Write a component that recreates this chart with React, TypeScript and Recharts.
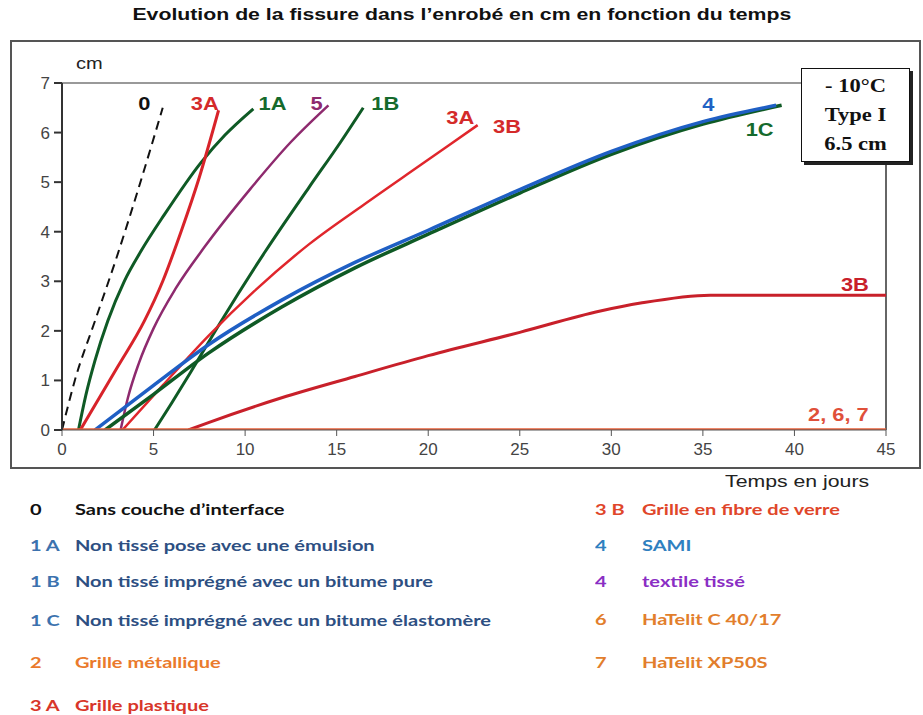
import React from 'react';
import { LineChart, Line, XAxis, YAxis, ReferenceLine, ReferenceDot } from 'recharts';

// crack length (cm) vs time (days)
const curve0 = [[0, 0], [0.7, 1], [1.8, 2.2], [3.0, 3.5], [4.2, 4.9], [5.5, 6.5]];
const curve1A = [[0.9, 0], [1.3, 0.7], [1.8, 1.4], [2.5, 2.2], [3.4, 3.0], [4.3, 3.6], [5.6, 4.35], [7.6, 5.4], [8.9, 5.95], [10.45, 6.48]];
const curve1B = [[5.05, 0], [6.0, 0.55], [7.0, 1.15], [8.7, 2.2], [11.1, 3.6], [13.5, 4.9], [15.2, 5.8], [16.45, 6.5]];
const curve1C = [[2.35, 0], [5, 0.72], [8, 1.55], [12, 2.48], [16, 3.27], [20, 3.95], [25, 4.78], [30, 5.56], [35, 6.17], [39.3, 6.55]];
const curve3A = [[1.0, 0], [3.0, 1.25], [4.5, 2.2], [5.5, 3.0], [6.5, 4.0], [7.5, 5.1], [8.55, 6.45]];
const curve3AB = [[3.3, 0], [5.5, 0.9], [8.0, 1.9], [10.5, 2.8], [13.5, 3.75], [16.5, 4.55], [19.6, 5.35], [22.7, 6.15]];
const curve3B = [[6.9, 0], [8, 0.15], [12, 0.65], [16, 1.08], [20, 1.5], [25, 1.97], [29.4, 2.4], [31.6, 2.56], [35.4, 2.72], [45, 2.72]];
const curve4 = [[1.8, 0], [5, 0.9], [8, 1.72], [12, 2.62], [16, 3.38], [20, 4.03], [25, 4.85], [30, 5.62], [35, 6.22], [39, 6.55]];
const curve5 = [[3.2, 0], [3.6, 0.65], [4.2, 1.35], [5.0, 2.05], [6.2, 2.85], [7.8, 3.7], [10.3, 4.87], [12.5, 5.81], [14.55, 6.55]];
const curve267 = [[0, 0], [45, 0]];

const xTicks = [0, 5, 10, 15, 20, 25, 30, 35, 40, 45];
const yTicks = [0, 1, 2, 3, 4, 5, 6, 7];

// curve tags: [text, t, cm, colour]
const curveTags: [string, number, number, string][] = [
  ['0', 4.5, 6.6, '#111'],
  ['3A', 7.8, 6.6, '#d42a2a'],
  ['1A', 11.5, 6.6, '#156a2c'],
  ['5', 13.9, 6.6, '#8e2a6e'],
  ['1B', 17.65, 6.6, '#156a2c'],
  ['3A', 21.75, 6.32, '#d42a2a'],
  ['3B', 24.3, 6.14, '#d42a2a'],
  ['4', 35.3, 6.58, '#1f62c4'],
  ['1C', 38.1, 6.08, '#156a2c'],
  ['3B', 43.3, 2.95, '#c8202a'],
  ['2, 6, 7', 42.4, 0.33, '#e0503a'],
];

const legendLeft: [string, string, string, string][] = [
  ['0', 'Sans couche d\u2019interface', '#111', '#111'],
  ['1 A', 'Non tissé  pose avec une émulsion', '#3c72ae', '#2d4f82'],
  ['1 B', 'Non tissé  imprégné avec un bitume pure', '#3c72ae', '#2d4f82'],
  ['1 C', 'Non tissé  imprégné avec un bitume élastomère', '#3c72ae', '#2d4f82'],
  ['2', 'Grille métallique', '#ea7a2c', '#ea7a2c'],
  ['3 A', 'Grille plastique', '#d8362a', '#d8362a'],
];
const legendRight: [string, string, string, string][] = [
  ['3 B', 'Grille en fibre de verre', '#e0462a', '#e0462a'],
  ['4', 'SAMI', '#2f80c0', '#2f80c0'],
  ['4', 'textile tissé', '#8a2ec4', '#8a2ec4'],
  ['6', 'HaTelit C 40/17', '#e27e2c', '#e27e2c'],
  ['7', 'HaTelit XP50S', '#e27e2c', '#e27e2c'],
];
const leftRowsY = [510, 546, 582, 621, 663, 706];
const rightRowsY = [510, 546, 582, 620, 663];

const pts = (arr: number[][]) => arr.map(([t, cm]) => ({ t, cm }));

const tagShape = (text: string, color: string) => (p: any) => (
  <g transform={`translate(${p.cx},${p.cy}) scale(1.15,1)`}>
    <text x={0} y={0} textAnchor="middle" dominantBaseline="central" fill={color}
      fontSize={19} fontWeight="bold" fontFamily="Liberation Sans, Arial, sans-serif">{text}</text>
  </g>
);

const stretch = { transform: 'scaleX(1.25)', transformOrigin: 'left center', whiteSpace: 'nowrap' as const };

const LegendRow = ({ row, x1, x2, y }: { row: [string, string, string, string]; x1: number; x2: number; y: number }) => (
  <>
    <div style={{ position: 'absolute', left: x1, top: y - 11, color: row[2], fontWeight: 700, fontSize: 16, ...stretch }}>{row[0]}</div>
    <div style={{ position: 'absolute', left: x2, top: y - 11, color: row[3], fontWeight: 700, fontSize: 16, ...stretch }}>{row[1]}</div>
  </>
);

export default function App() {
  const font = 'Liberation Sans, Arial, sans-serif';
  return (
    <div style={{ position: 'absolute', left: 0, top: 0, width: 923, height: 715, background: '#fff', fontFamily: 'Lato, sans-serif' }}>
      <div style={{ position: 'absolute', left: 0, top: 5, width: 923, textAlign: 'center', fontFamily: font, fontWeight: 700, fontSize: 17, color: '#111', transform: 'scaleX(1.25)', transformOrigin: '460px 0' }}>
        Evolution de la fissure dans l’enrobé en cm en fonction du temps
      </div>
      <div style={{ position: 'absolute', left: 10, top: 40, width: 911, height: 429, border: '2px solid #555', boxSizing: 'border-box' }} />
      <div style={{ position: 'absolute', left: 0, top: 0 }}>
        <LineChart width={923} height={480} margin={{ top: 83, right: 37, left: 32, bottom: 20 }}>
          <XAxis dataKey="t" type="number" domain={[0, 45]} ticks={xTicks} allowDataOverflow
            tick={{ fontSize: 17, fill: '#444', fontFamily: font }} tickSize={6} tickMargin={7}
            stroke="#555" height={30} />
          <YAxis type="number" domain={[0, 7]} ticks={yTicks} allowDataOverflow width={30}
            tick={{ fontSize: 17, fill: '#444', fontFamily: font }} tickSize={8} tickMargin={4}
            stroke="#333" strokeWidth={2} />
          <ReferenceLine y={7} stroke="#777" strokeWidth={1.5} />
          <ReferenceLine x={45} stroke="#333" strokeWidth={1.5} />
          <Line data={pts(curve0)} dataKey="cm" type="monotone" stroke="#111" strokeWidth={2} strokeDasharray="9 6" dot={false} isAnimationActive={false} />
          <Line data={pts(curve1A)} dataKey="cm" type="monotone" stroke="#0f5a25" strokeWidth={3} dot={false} isAnimationActive={false} />
          <Line data={pts(curve3A)} dataKey="cm" type="monotone" stroke="#d8232a" strokeWidth={3} dot={false} isAnimationActive={false} />
          <Line data={pts(curve5)} dataKey="cm" type="monotone" stroke="#8e2a6e" strokeWidth={2.5} dot={false} isAnimationActive={false} />
          <Line data={pts(curve1B)} dataKey="cm" type="monotone" stroke="#0f5a25" strokeWidth={3} dot={false} isAnimationActive={false} />
          <Line data={pts(curve3AB)} dataKey="cm" type="monotone" stroke="#e0262c" strokeWidth={2.5} dot={false} isAnimationActive={false} />
          <Line data={pts(curve3B)} dataKey="cm" type="monotone" stroke="#c8202a" strokeWidth={3} dot={false} isAnimationActive={false} />
          <Line data={pts(curve1C)} dataKey="cm" type="monotone" stroke="#0f5a25" strokeWidth={3.5} dot={false} isAnimationActive={false} />
          <Line data={pts(curve4)} dataKey="cm" type="monotone" stroke="#1f5fc4" strokeWidth={3.5} dot={false} isAnimationActive={false} />
          <Line data={pts(curve267)} dataKey="cm" type="linear" stroke="#e9603a" strokeWidth={3.5} dot={false} isAnimationActive={false} />
          {curveTags.map(([text, t, cm, color], i) => (
            <ReferenceDot key={i} x={t} y={cm} r={0} shape={tagShape(text, color)} />
          ))}
        </LineChart>
      </div>
      <div style={{ position: 'absolute', left: 76, top: 55, fontFamily: font, fontSize: 16, color: '#222', ...stretch }}>cm</div>
      <div style={{ position: 'absolute', left: 725, top: 472, fontFamily: font, fontSize: 17, color: '#222', ...stretch }}>Temps en jours</div>
      <div style={{ position: 'absolute', left: 801, top: 68, width: 109, height: 94, border: '1.5px solid #111', boxSizing: 'border-box', background: '#fff', boxShadow: '3px 3px 0 #222', fontFamily: 'Liberation Serif, Times New Roman, serif', fontWeight: 700, fontSize: 18, lineHeight: '29px', textAlign: 'center', color: '#111', paddingTop: 3 }}>
        <div style={{ transform: 'scaleX(1.25)' }}>- 10°C</div>
        <div style={{ transform: 'scaleX(1.25)' }}>Type I</div>
        <div style={{ transform: 'scaleX(1.25)' }}>6.5 cm</div>
      </div>
      {legendLeft.map((row, i) => <LegendRow key={'l' + i} row={row} x1={30} x2={75} y={leftRowsY[i]} />)}
      {legendRight.map((row, i) => <LegendRow key={'r' + i} row={row} x1={595} x2={642} y={rightRowsY[i]} />)}
    </div>
  );
}
